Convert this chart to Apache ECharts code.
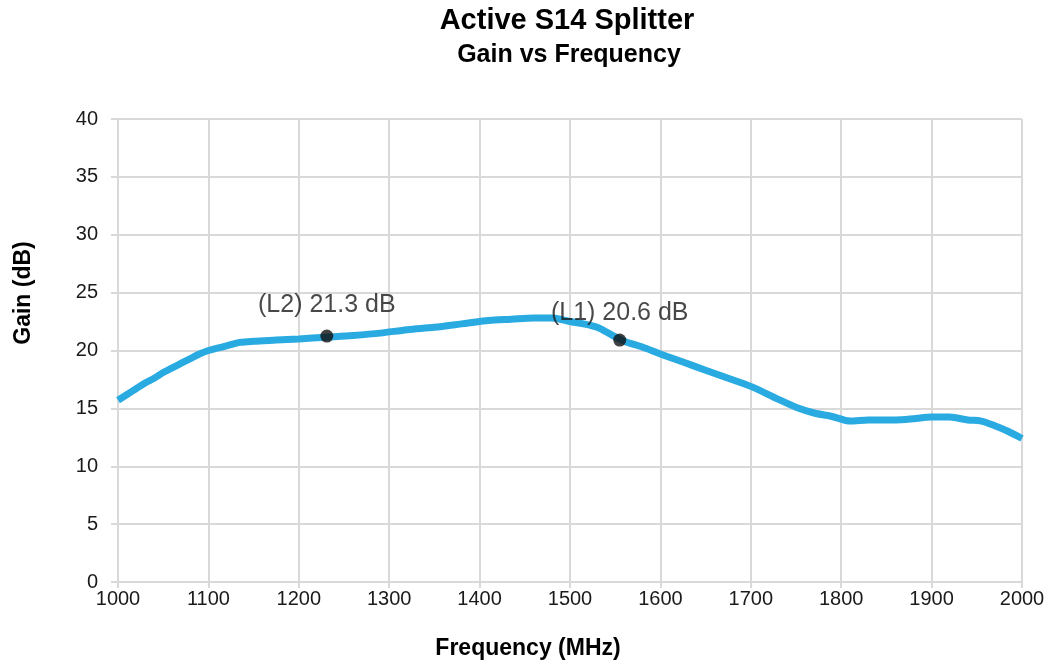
<!DOCTYPE html>
<html>
<head>
<meta charset="utf-8">
<script src="https://cdn.jsdelivr.net/npm/echarts@6/dist/echarts.min.js"></script>
<style>html,body{margin:0;padding:0;background:#fff}#c{width:1054px;height:667px}</style>
</head>
<body>
<div id="c"></div>
<script>
var freq = [1000,1010,1020,1030,1040,1050,1060,1070,1080,1090,1100,1110,1120,1135,1150,1175,1200,1230,1260,1290,1320,1350,1380,1410,1435,1460,1480,1500,1515,1530,1545,1560,1580,1600,1625,1650,1675,1700,1730,1750,1770,1790,1810,1830,1860,1880,1900,1920,1940,1955,1970,1985,2000];
var gain = [15.7,16.2,16.7,17.2,17.6,18.1,18.5,18.9,19.3,19.7,20.0,20.2,20.4,20.7,20.8,20.9,21.0,21.15,21.3,21.5,21.8,22.0,22.3,22.6,22.7,22.8,22.8,22.5,22.3,22.0,21.4,20.8,20.3,19.7,19.0,18.3,17.6,16.9,15.8,15.1,14.6,14.3,13.9,14.0,14.0,14.1,14.25,14.25,14.0,13.9,13.5,13.0,12.4];
var markerFreq = [1231, 1555];
var markerGain = [21.25, 20.9];
var markerLabels = ['(L2) 21.3 dB', '(L1) 20.6 dB'];
var markerDist = [12, 8];
var titleText = 'Active S14 Splitter';
var subtitleText = 'Gain vs Frequency';
var xName = 'Frequency (MHz)';
var yName = 'Gain (dB)';

var chart = echarts.init(document.getElementById('c'));
var line = freq.map(function(f,i){return [f, gain[i]];});
var FF = '"Liberation Sans", Arial, sans-serif';
var marks = markerFreq.map(function(f,i){
  return {value:[f, markerGain[i]], label:{show:true, formatter:markerLabels[i], position:'top', distance:markerDist[i], color:'#1a1a1a', fontSize:25, fontFamily:FF}};
});
chart.setOption({
  animation:false,
  graphic:[
    {type:'text', x:567, y:21, style:{text:titleText, font:'bold 29px '+FF, fill:'#000', align:'center', verticalAlign:'middle'}},
    {type:'text', x:569, y:55, style:{text:subtitleText, font:'bold 25px '+FF, fill:'#000', align:'center', verticalAlign:'middle'}},
    {type:'text', x:528, y:649, style:{text:xName, font:'bold 23px '+FF, fill:'#000', align:'center', verticalAlign:'middle'}},
    {type:'text', x:24, y:293, rotation:Math.PI/2, style:{text:yName, font:'bold 23px '+FF, fill:'#000', align:'center', verticalAlign:'middle'}}
  ],
  grid:{left:118, right:32, top:119, bottom:85, containLabel:false},
  xAxis:{type:'value', min:1000, max:2000, interval:100,
    axisLine:{show:true, lineStyle:{color:'#d9d9d9', width:2}},
    axisTick:{show:true, length:6, lineStyle:{color:'#d9d9d9', width:2}},
    axisLabel:{color:'#1a1a1a', fontSize:20, fontFamily:FF, margin:7, formatter:function(v){return String(v);}},
    splitLine:{show:true, lineStyle:{color:'#d9d9d9', width:2}}},
  yAxis:{type:'value', min:0, max:40, interval:5,
    axisLine:{show:true, lineStyle:{color:'#d9d9d9', width:2}},
    axisTick:{show:true, length:7, lineStyle:{color:'#d9d9d9', width:2}},
    axisLabel:{color:'#1a1a1a', fontSize:20, fontFamily:FF, margin:20},
    splitLine:{show:true, lineStyle:{color:'#d9d9d9', width:2}}},
  series:[
    {type:'line', data:line, smooth:0.3, showSymbol:false, lineStyle:{color:'#29ABE2', width:7}, z:2},
    {type:'scatter', data:marks, symbolSize:13, itemStyle:{color:'#111'}, z:3}
  ]
});
</script>
</body>
</html>
